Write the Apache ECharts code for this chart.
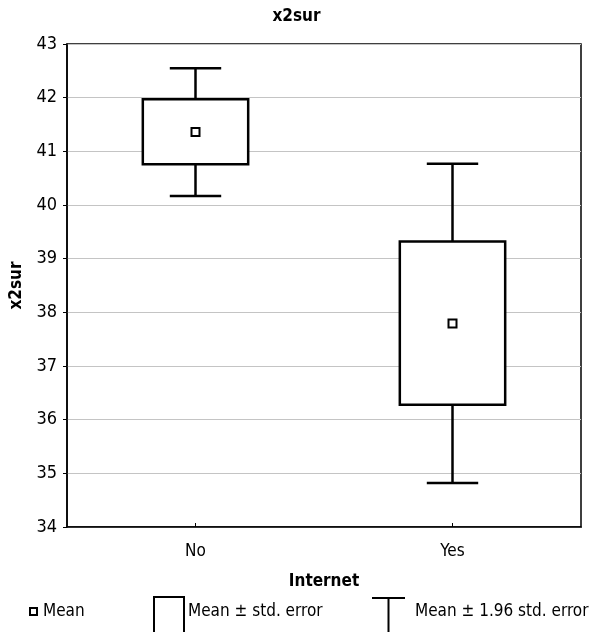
<!DOCTYPE html>
<html>
<head>
<meta charset="utf-8">
<script src="https://cdn.jsdelivr.net/npm/echarts@6/dist/echarts.min.js"></script>
<style>
  html, body { margin: 0; padding: 0; background: #fff; }
  #chart { width: 593px; height: 632px; }
</style>
</head>
<body>
<div id="chart"></div>
<script>
// values
var categories = ['No', 'Yes']
var means = [41.36, 37.79]
var seLow = [40.76, 36.28]
var seHigh = [41.97, 39.32]
var ciLow = [40.17, 34.82]
var ciHigh = [42.55, 40.77]
var yTicks = { min: 34, max: 43, interval: 1 }

var FONT = '"Liberation Sans Narrow", "DejaVu Sans Condensed", sans-serif'

var boxData = categories.map(function (c, i) {
  return [i, means[i], seLow[i], seHigh[i], ciLow[i], ciHigh[i]]
})

function renderBox (params, api) {
  var x = api.value(0)
  var pMean = api.coord([x, api.value(1)])
  var pSeLo = api.coord([x, api.value(2)])
  var pSeHi = api.coord([x, api.value(3)])
  var pCiLo = api.coord([x, api.value(4)])
  var pCiHi = api.coord([x, api.value(5)])
  var band = api.size([1, 0])[0]
  var boxW = band * 0.41
  var capW = band * 0.2
  var cx = pMean[0]
  var ls = { stroke: '#000', lineWidth: 2.5, fill: null }
  return {
    type: 'group',
    children: [
      { type: 'line', shape: { x1: cx, y1: pCiHi[1], x2: cx, y2: pSeHi[1] }, style: ls },
      { type: 'line', shape: { x1: cx - capW / 2, y1: pCiHi[1], x2: cx + capW / 2, y2: pCiHi[1] }, style: ls },
      { type: 'line', shape: { x1: cx, y1: pSeLo[1], x2: cx, y2: pCiLo[1] }, style: ls },
      { type: 'line', shape: { x1: cx - capW / 2, y1: pCiLo[1], x2: cx + capW / 2, y2: pCiLo[1] }, style: ls },
      { type: 'rect', shape: { x: cx - boxW / 2, y: pSeHi[1], width: boxW, height: pSeLo[1] - pSeHi[1] }, style: { stroke: '#000', lineWidth: 2.5, fill: '#fff' } },
      { type: 'rect', shape: { x: cx - 4, y: pMean[1] - 4, width: 8, height: 8 }, style: { stroke: '#000', lineWidth: 2, fill: '#fff' } }
    ]
  }
}

var myChart = echarts.init(document.getElementById('chart'))
var option = {
  animation: false,
  backgroundColor: '#fff',
  title: {
    text: 'x2sur',
    left: 'center',
    top: 3,
    textStyle: { fontFamily: FONT, fontSize: 17, fontWeight: 'bold', color: '#000' }
  },
  grid: {
    left: 66,
    right: 12,
    top: 44,
    bottom: 105,
    show: true,
    borderColor: '#000',
    borderWidth: 1.5
  },
  xAxis: {
    type: 'category',
    data: categories,
    name: 'Internet',
    nameLocation: 'middle',
    nameGap: 46,
    nameTextStyle: { fontFamily: FONT, fontSize: 17, fontWeight: 'bold', color: '#000' },
    axisLine: { lineStyle: { color: '#000', width: 1.5 } },
    axisTick: { show: true, inside: true, alignWithLabel: true, length: 4, lineStyle: { color: '#000' } },
    axisLabel: { fontFamily: FONT, fontSize: 17, color: '#000', margin: 16 },
    splitLine: { show: false }
  },
  yAxis: {
    type: 'value',
    min: yTicks.min,
    max: yTicks.max,
    interval: yTicks.interval,
    name: 'x2sur',
    nameLocation: 'middle',
    nameGap: 42,
    nameTextStyle: { fontFamily: FONT, fontSize: 17, fontWeight: 'bold', color: '#000' },
    axisLine: { show: true, lineStyle: { color: '#000', width: 1.5 } },
    axisTick: { show: true, length: 4, lineStyle: { color: '#000' } },
    axisLabel: { fontFamily: FONT, fontSize: 18, color: '#000', margin: 10 },
    splitLine: { show: true, lineStyle: { color: '#c4c4c4', width: 1 } }
  },
  series: [{
    type: 'custom',
    renderItem: renderBox,
    data: boxData,
    encode: { x: 0, y: [1, 2, 3, 4, 5] },
    z: 10
  }],
  graphic: [
    // legend: mean
    { type: 'rect', shape: { x: 30, y: 608, width: 7, height: 7 }, style: { stroke: '#000', lineWidth: 2, fill: '#fff' } },
    { type: 'text', x: 43, y: 612, style: { text: 'Mean', fontFamily: FONT, fontSize: 17, fill: '#000', verticalAlign: 'middle' } },
    // legend: box
    { type: 'rect', shape: { x: 154, y: 597, width: 30, height: 40 }, style: { stroke: '#000', lineWidth: 2, fill: '#fff' } },
    { type: 'text', x: 188, y: 612, style: { text: 'Mean ± std. error', fontFamily: FONT, fontSize: 17, fill: '#000', verticalAlign: 'middle' } },
    // legend: whisker
    { type: 'line', shape: { x1: 372, y1: 598, x2: 405, y2: 598 }, style: { stroke: '#000', lineWidth: 2 } },
    { type: 'line', shape: { x1: 388.5, y1: 598, x2: 388.5, y2: 640 }, style: { stroke: '#000', lineWidth: 2 } },
    { type: 'text', x: 415, y: 612, style: { text: 'Mean ± 1.96 std. error', fontFamily: FONT, fontSize: 17, fill: '#000', verticalAlign: 'middle' } }
  ]
}
myChart.setOption(option)
window.addEventListener('resize', function () {
  myChart.resize()
})
</script>
</body>
</html>
